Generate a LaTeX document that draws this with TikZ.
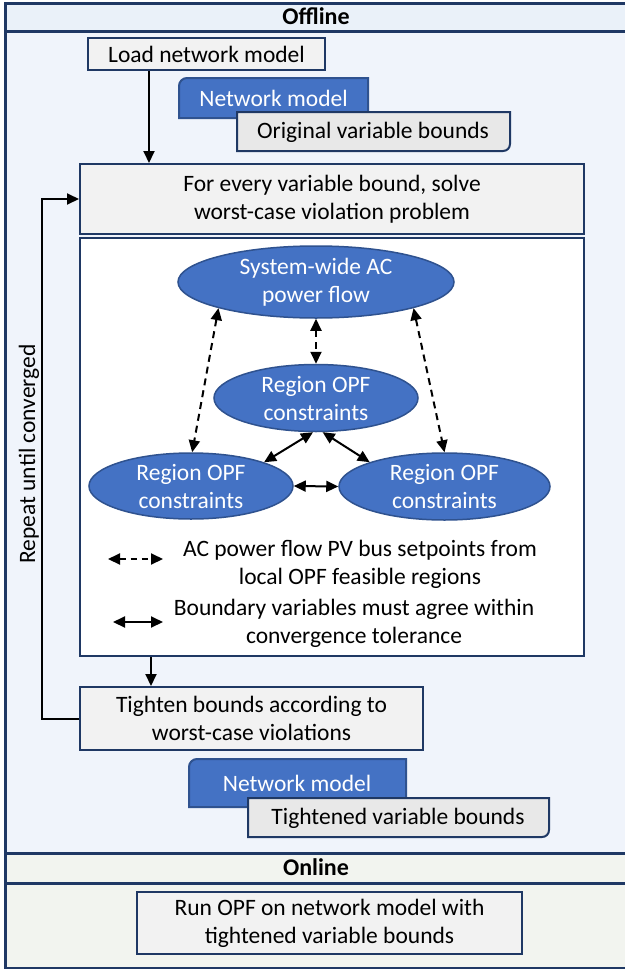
\documentclass[tikz,border=0pt]{standalone}
\usepackage{fontspec}
\setmainfont{Carlito}
\usetikzlibrary{shapes.geometric,arrows.meta}
\definecolor{navy}{RGB}{31,56,100}
\definecolor{bluefill}{RGB}{68,114,196}
\definecolor{blueedge}{RGB}{47,82,143}
\definecolor{boxfill}{RGB}{242,242,242}
\definecolor{greyfill}{RGB}{232,232,232}
\definecolor{offhead}{RGB}{234,241,249}
\definecolor{offbody}{RGB}{240,244,251}
\definecolor{onfill}{RGB}{242,244,239}
\begin{document}
\begin{tikzpicture}[x=1pt,y=-1pt,
  font=\fontsize{23.5}{28}\selectfont,
  box/.style={draw=navy, line width=2pt, fill=boxfill, inner sep=0pt, align=center},
  greyshape/.style={draw=navy, line width=2pt, fill=greyfill},
  blueshape/.style={draw=blueedge, line width=2pt, fill=bluefill},
  lbl/.style={inner sep=0pt, align=center},
  ell/.style={ellipse, draw=blueedge, line width=1.5pt, fill=bluefill, text=white, inner sep=0pt, align=center},
  arr/.style={line width=2pt, -{Triangle[length=12pt,width=11pt]}},
  barr/.style={line width=2pt, {Triangle[length=12pt,width=11pt]}-{Triangle[length=12pt,width=11pt]}},
  dbarr/.style={barr, dash pattern=on 7pt off 5pt},
  panel/.style={draw=navy, line width=2.5pt, inner sep=0pt, anchor=north west},
]
\useasboundingbox (0,0) rectangle (624,969);

% panels
\node[panel, fill=offbody, minimum width=640pt, minimum height=822pt] (offbody) at (4,30) {};
\node[panel, fill=offhead, minimum width=640pt, minimum height=28pt] (offhead) at (4,2) {};
\node[panel, fill=onfill, minimum width=640pt, minimum height=85pt] (onbody) at (4,882) {};
\node[panel, fill=onfill, minimum width=640pt, minimum height=30pt] (onhead) at (4,852) {};
\node[lbl, font=\fontsize{24}{28}\selectfont\bfseries] (offlbl) at (316,16) {Offline};
\node[lbl, font=\fontsize{24}{28}\selectfont\bfseries] (onlbl) at (316,867) {Online};

% top boxes
\node[box, minimum width=237pt, minimum height=32pt] (load) at (206.5,54) {Load network model};
\draw[blueshape] (368,118) -- (179,118) -- (179,86) .. controls (179,81.6) and (182.6,78) .. (187,78) -- (368,78) -- cycle;
\node[lbl, text=white] (nm1) at (273.5,98) {Network model};
\draw[greyshape] (237,112) -- (510,112) -- (510,144) .. controls (510,148) and (507,151) .. (503,151) -- (237,151) -- cycle;
\node[lbl] (ovb) at (373,132) {Original variable bounds};

\node[box, minimum width=504pt, minimum height=70pt] (solve) at (332,199) {For every variable bound, solve\\worst-case violation problem};
\node[box, fill=white, minimum width=504pt, minimum height=418pt] (inner) at (332,447) {};

% ellipses
\node[ell, minimum width=276pt, minimum height=72pt] (top) at (316,282) {System-wide AC\\power flow};
\node[ell, minimum width=204pt, minimum height=67pt] (mid) at (316,398) {Region OPF\\constraints};
\node[ell, minimum width=204pt, minimum height=66pt] (bl) at (191,486) {Region OPF\\constraints};
\node[ell, minimum width=211pt, minimum height=67pt] (br) at (444.5,486.5) {Region OPF\\constraints};

\draw[dbarr] (top.195) -- (bl.88);
\draw[dbarr] (top.345) -- (br.90);
\draw[dbarr] (top.270) -- (mid.90);
\draw[barr] (mid.265) -- (bl.18);
\draw[barr] (mid.281) -- (br.162);
\draw[barr] (bl.0) -- (br.180);

% legend
\coordinate (la1) at (108,559);
\coordinate (la2) at (163,559);
\coordinate (lb1) at (113,622);
\coordinate (lb2) at (163,622);
\draw[dbarr, dash pattern=on 6pt off 5pt] (la1) -- (la2);
\draw[barr] (lb1) -- (lb2);
\node[lbl] (leg1) at (360,564) {AC power flow PV bus setpoints from\\local OPF feasible regions};
\node[lbl] (leg2) at (354,623) {Boundary variables must agree within\\convergence tolerance};

% lower boxes
\node[box, minimum width=343pt, minimum height=63pt] (tighten) at (251.5,718.5) {Tighten bounds according to\\worst-case violations};
\draw[blueshape] (406,807) -- (189,807) -- (189,767) .. controls (189,762.6) and (192.6,759) .. (197,759) -- (406,759) -- cycle;
\node[lbl, text=white] (nm2) at (297,783) {Network model};
\draw[greyshape] (248,798) -- (549,798) -- (549,830) .. controls (549,834) and (546,837) .. (542,837) -- (248,837) -- cycle;
\node[lbl] (tvb) at (398,818) {Tightened variable bounds};

\node[box, minimum width=385pt, minimum height=62pt] (run) at (329.5,923) {Run OPF on network model with\\tightened variable bounds};

% flow arrows
\draw[arr] ([xshift=62pt]load.south west) -- ([xshift=70pt]solve.north west);
\draw[arr] ([xshift=72pt]inner.south west) -- ([xshift=72pt]tighten.north west);
\draw[arr] (tighten.west) -- ++(-37,0) |- (solve.west);
\node[lbl, rotate=90] (repeat) at (29,454) {Repeat until converged};
\end{tikzpicture}
\end{document}
